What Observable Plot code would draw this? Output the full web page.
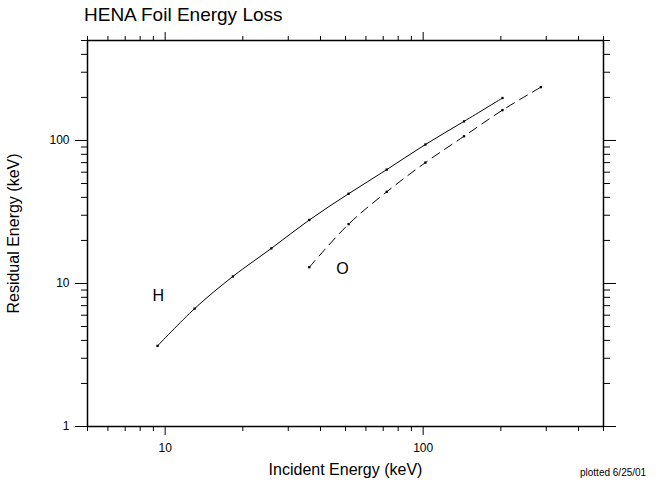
<!DOCTYPE html>
<html><head>
<script src="https://cdn.jsdelivr.net/npm/d3@7"></script>
<script src="https://cdn.jsdelivr.net/npm/@observablehq/plot@0.6"></script>
<style>
body{margin:0;background:#fff;font-family:"Liberation Sans",Arial,sans-serif;}
#wrap{position:relative;width:657px;height:486px;}
#title{position:absolute;left:84px;top:4px;font-size:19px;}
#stamp{position:absolute;left:580px;top:467px;font-size:10px;}
</style></head><body>
<div id="wrap"><div id="chart"></div><div id="title">HENA Foil Energy Loss</div><div id="stamp">plotted 6/25/01</div></div>
<script>
const hIncident = [9.34, 13.0, 18.3, 25.8, 36.2, 51.4, 72.2, 102, 144, 203];
const hResidual = [3.66, 6.67, 11.2, 17.6, 27.8, 42.4, 62.5, 93.7, 136, 198];
const oIncident = [36.2, 51.4, 72.2, 102, 144, 203, 286];
const oResidual = [13.0, 26.0, 43.7, 70.0, 107, 163, 236];
const majorTicks = [1, 10, 100];
const xMajor = [10, 100];
const H = hIncident.map((x, i) => ({x, y: hResidual[i]}));
const O = oIncident.map((x, i) => ({x, y: oResidual[i]}));
const minor = d3.range(0, 3).flatMap(e => d3.range(2, 10).map(m => m * 10 ** e)).filter(v => v <= 500);
const xMinor = minor.filter(v => v >= 5 && !xMajor.includes(v));
const yMinor = minor;
const none = () => "";
document.getElementById("chart").append(Plot.plot({
  width: 657, height: 486,
  marginLeft: 87, marginRight: 54, marginTop: 40, marginBottom: 60,
  style: {fontFamily: "Liberation Sans, Arial, sans-serif", color: "black", background: "white"},
  x: {type: "log", domain: [5, 500]},
  y: {type: "log", domain: [1, 500]},
  marks: [
    Plot.frame({stroke: "black", strokeWidth: 1.5}),
    Plot.axisX({ticks: xMajor, tickSize: 9, tickFormat: d => String(d), fontSize: 12, tickPadding: 8, label: null}),
    Plot.axisX({ticks: [], label: "Incident Energy (keV)", labelAnchor: "center", labelArrow: "none", labelOffset: 48, fontSize: 16}),
    Plot.axisX({ticks: xMinor, tickSize: 5, tickFormat: none, label: null}),
    Plot.axisX({anchor: "top", ticks: xMajor, tickSize: 9, tickFormat: none, label: null}),
    Plot.axisX({anchor: "top", ticks: xMinor, tickSize: 5, tickFormat: none, label: null}),
    Plot.axisY({ticks: majorTicks, tickSize: 12, tickFormat: d => String(d), fontSize: 12, tickPadding: 6, label: null}),
    Plot.axisY({ticks: [], label: "Residual Energy (keV)", labelAnchor: "center", labelArrow: "none", labelOffset: 80, fontSize: 16}),
    Plot.axisY({ticks: yMinor, tickSize: 6, tickFormat: none, label: null}),
    Plot.axisY({anchor: "right", ticks: majorTicks, tickSize: 12, tickFormat: none, label: null}),
    Plot.axisY({anchor: "right", ticks: yMinor, tickSize: 6, tickFormat: none, label: null}),
    Plot.line(H, {x: "x", y: "y", stroke: "black", strokeWidth: 1, curve: "catmull-rom"}),
    Plot.line(O, {x: "x", y: "y", stroke: "black", strokeWidth: 1, strokeDasharray: "9,6", curve: "catmull-rom"}),
    Plot.dot([...H, ...O], {x: "x", y: "y", r: 1.3, fill: "black", symbol: "square"}),
    Plot.text([{x: 9.4, y: 8.2, t: "H"}, {x: 48.7, y: 12.6, t: "O"}], {x: "x", y: "y", text: "t", fontSize: 16, fill: "black"})
  ]
}));
</script>
</body></html>
